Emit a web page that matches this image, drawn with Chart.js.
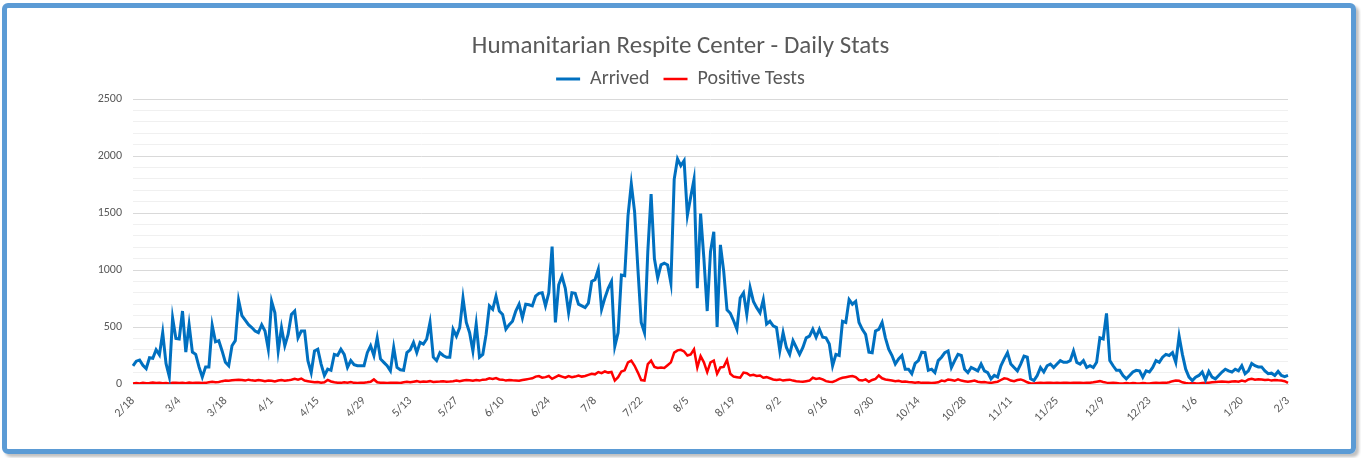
<!DOCTYPE html>
<html>
<head>
<meta charset="utf-8">
<script src="https://cdn.jsdelivr.net/npm/chart.js@4"></script>
<style>
  html, body { margin: 0; padding: 0; background: #fff; }
  #wrap { position: relative; width: 1361px; height: 458px; }
  #myChart { position: absolute; left: 0; top: 0; }
  #frame {
    position: absolute; left: 2px; top: 3px; width: 1354px; height: 451px;
    box-sizing: border-box; border: 5px solid #5b9bd5; border-radius: 6px;
    box-shadow: 3px 3px 3px rgba(0,0,0,0.25); pointer-events: none;
  }
</style>
</head>
<body>
<div id="wrap">
  <canvas id="myChart" width="1361" height="458"></canvas>
  <div id="frame"></div>
</div>
<script>
// daily labels 2/18 .. 2/3
const days = [];
for (let d = new Date(2021, 1, 18); d <= new Date(2022, 1, 3); d.setDate(d.getDate() + 1)) {
  days.push((d.getMonth() + 1) + "/" + d.getDate());
}

const arrived = [
  160, 200, 210, 165, 135, 230, 225, 300, 255, 450,
  180, 65, 580, 400, 395, 640, 280, 520, 280, 260,
  150, 60, 150, 150, 515, 370, 380, 290, 190, 160,
  335, 380, 735, 600, 560, 520, 495, 465, 450, 520,
  465, 305, 725, 625, 290, 495, 335, 435, 610, 640,
  405, 465, 465, 205, 100, 290, 305, 175, 75, 130,
  120, 260, 250, 305, 260, 145, 205, 170, 160, 160,
  160, 275, 335, 250, 405, 220, 190, 160, 115, 320,
  145, 125, 120, 275, 300, 365, 275, 365, 350, 395,
  540, 235, 205, 275, 250, 235, 235, 480, 420, 495,
  755, 540, 450, 290, 525, 235, 260, 435, 685, 655,
  770, 640, 610, 480, 520, 550, 640, 700, 580, 700,
  695, 685, 770, 795, 800, 685, 800, 1205, 540, 870,
  945, 840, 625, 800, 795, 700, 685, 670, 710, 900,
  915, 1005, 655, 755, 840, 900, 330, 450, 955, 950,
  1475, 1755, 1510, 1010, 540, 450, 1160, 1665, 1100, 930,
  1045, 1060, 1045, 885, 1795, 1975, 1915, 1960, 1480, 1640,
  1795, 840, 1495, 1100, 640, 1160, 1335, 500, 1220, 990,
  650, 620, 555, 480, 755, 800, 610, 845, 725, 670,
  625, 740, 525, 550, 510, 495, 290, 450, 320, 260,
  380, 320, 260, 320, 405, 420, 480, 410, 480, 410,
  405, 350, 160, 260, 250, 550, 540, 740, 700, 725,
  540, 480, 435, 280, 275, 465, 480, 540, 405, 305,
  250, 175, 220, 250, 130, 130, 90, 180, 205, 280,
  275, 120, 130, 100, 205, 235, 275, 290, 145, 205,
  260, 250, 130, 100, 145, 130, 115, 175, 115, 100,
  45, 75, 60, 160, 220, 275, 175, 145, 115, 175,
  245, 235, 45, 30, 75, 145, 105, 160, 175, 145,
  175, 205, 190, 190, 205, 290, 190, 175, 205, 145,
  160, 145, 190, 405, 395, 620, 205, 160, 120, 120,
  75, 45, 75, 105, 120, 115, 60, 115, 105, 145,
  205, 190, 235, 260, 250, 275, 190, 420, 260, 130,
  60, 30, 60, 75, 105, 35, 110, 60, 45, 75,
  105, 130, 115, 105, 130, 115, 160, 90, 115, 180,
  160, 150, 150, 115, 90, 95, 75, 110, 75, 65,
  75
];

const positive = [
  5, 8, 5, 10, 6, 8, 12, 8, 10, 6,
  8, 5, 10, 12, 8, 10, 6, 12, 8, 10,
  12, 8, 10, 15, 20, 15, 18, 25, 30, 28,
  32, 36, 38, 35, 30, 38, 32, 28, 35, 30,
  25, 30, 28, 22, 30, 35, 28, 32, 38, 45,
  38, 48, 30, 25, 20, 15, 18, 12, 15, 36,
  22, 15, 12, 10, 15, 12, 18, 10, 8, 10,
  12, 15, 20, 40, 15, 12, 10, 8, 10, 12,
  10, 8, 15, 20, 15, 20, 25, 18, 22, 20,
  25, 18, 20, 22, 25, 20, 22, 25, 30, 25,
  30, 35, 32, 28, 35, 30, 38, 40, 50, 45,
  52, 40, 38, 30, 35, 32, 30, 28, 35, 40,
  45, 50, 65, 70, 55, 60, 70, 45, 60, 75,
  65, 55, 70, 60, 65, 75, 65, 70, 80, 90,
  85, 105, 95, 110, 100, 105, 30, 60, 110, 120,
  190, 205, 160, 100, 35, 30, 175, 205, 150, 140,
  145, 140, 165, 190, 275, 295, 300, 285, 250, 260,
  305, 145, 245, 190, 105, 190, 205, 90, 145, 150,
  210, 90, 65, 60, 55, 100, 95, 75, 80, 70,
  75, 55, 60, 50, 40, 35, 40, 30, 35, 38,
  30, 25, 22, 20, 25, 30, 55, 45, 50, 40,
  25, 20, 18, 30, 45, 55, 60, 65, 70, 60,
  35, 30, 40, 20, 35, 45, 75, 50, 40, 35,
  30, 25, 28, 20, 22, 18, 15, 12, 15, 10,
  12, 10, 8, 12, 15, 30, 25, 40, 35, 28,
  40, 30, 25, 20, 25, 30, 20, 15, 18, 12,
  10, 15, 20, 35, 50, 45, 30, 25, 35, 40,
  30, 15, 5, 5, 8, 10, 8, 10, 12, 8,
  10, 8, 12, 10, 8, 10, 12, 10, 8, 10,
  12, 15, 20, 25, 18, 12, 8, 10, 8, 5,
  5, 8, 5, 8, 6, 5, 8, 6, 5, 8,
  10, 8, 12, 10, 15, 25, 30, 28, 15, 8,
  5, 8, 6, 5, 8, 10, 12, 15, 18, 20,
  22, 20, 18, 22, 25, 20, 30, 22, 40, 45,
  38, 42, 40, 35, 38, 30, 35, 32, 30, 25,
  10
];

const fontFamily = "Carlito, Calibri, Lato, sans-serif";
const textColor = "#595959";

const ctx = document.getElementById("myChart");

const dailyChart = new Chart(ctx, {
  type: "line",
  data: {
    labels: days,
    datasets: [
      {
        label: "Arrived",
        data: arrived,
        borderColor: "#0070c0",
        backgroundColor: "#0070c0",
        borderWidth: 3,
        pointRadius: 0,
      },
      {
        label: "Positive Tests",
        data: positive,
        borderColor: "#ff0000",
        backgroundColor: "#ff0000",
        borderWidth: 2.5,
        pointRadius: 0,
      },
    ],
  },
  options: {
    responsive: false,
    animation: false,
    layout: {
      // symmetric side padding so title and legend centre on the page
      padding: { top: 20, right: 73, bottom: 0, left: 73 },
    },
    plugins: {
      title: {
        display: true,
        text: "Humanitarian Respite Center - Daily Stats",
        color: textColor,
        font: { family: fontFamily, size: 25, weight: "normal", lineHeight: 1.0 },
        padding: { top: 14, bottom: -4 },
      },
      legend: {
        labels: {
          color: textColor,
          font: { family: fontFamily, size: 20 },
          usePointStyle: true,
          pointStyle: "line",
          pointStyleWidth: 24,
          padding: 14,
        },
      },
      tooltip: { enabled: false },
    },
    scales: {
      x: {
        grid: { display: false },
        border: { color: "#d9d9d9" },
        ticks: {
          autoSkip: false,
          minRotation: 45,
          maxRotation: 45,
          padding: 2,
          color: textColor,
          font: { family: fontFamily, size: 12 },
          callback: function (value, index) {
            return index % 14 === 0 ? this.getLabelForValue(value) : "";
          },
        },
        afterFit: function (scale) {
          scale.height = 74;
        },
      },
      y: {
        min: 0,
        max: 2500,
        border: { display: false },
        grid: {
          drawTicks: false,
          color: function (c) {
            return c.tick.value % 500 === 0 ? "#d9d9d9" : "#f0f0f0";
          },
        },
        ticks: {
          autoSkip: false,
          stepSize: 100,
          padding: 11,
          color: textColor,
          font: { family: fontFamily, size: 12 },
          callback: function (value) {
            return value % 500 === 0 ? value : "";
          },
        },
        afterFit: function (scale) {
          scale.width = 60;
        },
      },
    },
  },
});
</script>
</body>
</html>
